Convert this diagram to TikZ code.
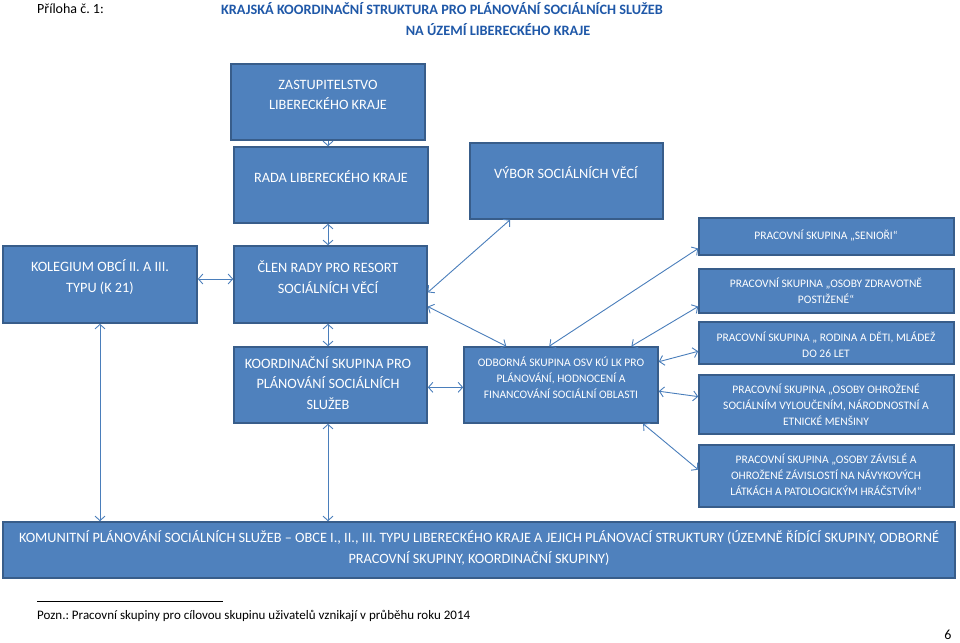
\documentclass[tikz,border=0pt]{standalone}
\usepackage{fontspec}
\setmainfont{Carlito}
\usetikzlibrary{arrows.meta,calc}
\definecolor{boxfill}{HTML}{4F81BD}
\definecolor{boxdraw}{HTML}{385D8A}
\definecolor{arrowcol}{HTML}{4A7EBB}
\definecolor{titleblue}{HTML}{1F58A8}
\frenchspacing
\begin{document}
\begin{tikzpicture}[x=1pt,y=-1pt,
  box/.style={draw=boxdraw, fill=boxfill, line width=1.6pt, inner sep=0pt},
  bigtxt/.style={text=white, align=center, font=\fontsize{14.3}{20.5}\selectfont, inner sep=0pt},
  smalltxt/.style={text=white, align=center, font=\fontsize{11.5}{16.2}\selectfont, inner sep=0pt},
  tip/.tip={Straight Barb[length=4.5pt,width=10pt]},
  conn/.style={draw=arrowcol, line width=0.9pt, tip-tip},
  oneway/.style={draw=arrowcol, line width=0.9pt, -tip}
]
\useasboundingbox (0,0) rectangle (960,642);

% header
\node[anchor=west, inner sep=0pt, font=\fontsize{14}{16}\selectfont] (pril) at (37,9) {Příloha č. 1:};
\node[inner sep=0pt, text=titleblue, font=\bfseries\fontsize{14.3}{16}\selectfont] (t1) at (442,9) {KRAJSKÁ KOORDINAČNÍ STRUKTURA PRO PLÁNOVÁNÍ SOCIÁLNÍCH SLUŽEB};
\node[inner sep=0pt, text=titleblue, font=\bfseries\fontsize{14.3}{16}\selectfont] (t2) at (498,30) {NA ÚZEMÍ LIBERECKÉHO KRAJE};

% boxes
\node[box, minimum width=194, minimum height=76] (zast) at (328,102) {};
\node[box, minimum width=194, minimum height=76] (rada) at (331,185) {};
\node[box, minimum width=193, minimum height=76] (vybor) at (566.5,181) {};
\node[box, minimum width=255, minimum height=37] (senior) at (826.5,236.5) {};
\node[box, minimum width=255, minimum height=44] (zdrav) at (826.5,291) {};
\node[box, minimum width=194, minimum height=77] (koleg) at (100,284.5) {};
\node[box, minimum width=193, minimum height=77] (clen) at (330.5,284.5) {};
\node[box, minimum width=193, minimum height=76] (koord) at (330.5,385) {};
\node[box, minimum width=194, minimum height=76] (odb) at (561,385) {};
\node[box, minimum width=255, minimum height=42] (rodina) at (826.5,343) {};
\node[box, minimum width=255, minimum height=59] (ohroz) at (826.5,404.5) {};
\node[box, minimum width=255, minimum height=62] (zavis) at (826.5,476) {};
\node[box, minimum width=952, minimum height=56] (komun) at (479,550) {};

% texts
\node[bigtxt] (zastT) at (328,95) {ZASTUPITELSTVO\\LIBERECKÉHO KRAJE};
\node[bigtxt] (radaT) at (331,177) {RADA LIBERECKÉHO KRAJE};
\node[bigtxt] (vyborT) at (566,173) {VÝBOR SOCIÁLNÍCH VĚCÍ};
\node[bigtxt] (kolegT) at (100,277) {KOLEGIUM OBCÍ II. A III.\\TYPU (K 21)};
\node[bigtxt] (clenT) at (328,277) {ČLEN RADY PRO RESORT\\SOCIÁLNÍCH VĚCÍ};
\node[bigtxt] (koordT) at (328,383) {KOORDINAČNÍ SKUPINA PRO\\PLÁNOVÁNÍ SOCIÁLNÍCH\\SLUŽEB};
\node[smalltxt] (odbT) at (561,378) {ODBORNÁ SKUPINA OSV KÚ LK PRO\\PLÁNOVÁNÍ, HODNOCENÍ A\\FINANCOVÁNÍ SOCIÁLNÍ OBLASTI};
\node[smalltxt] (seniorT) at (826,236) {PRACOVNÍ SKUPINA „SENIOŘI“};
\node[smalltxt] (zdravT) at (826,291) {PRACOVNÍ SKUPINA „OSOBY ZDRAVOTNĚ\\POSTIŽENÉ“};
\node[smalltxt] (rodinaT) at (826,344.5) {PRACOVNÍ SKUPINA „ RODINA A DĚTI, MLÁDEŽ\\DO 26 LET};
\node[smalltxt] (ohrozT) at (826,405) {PRACOVNÍ SKUPINA „OSOBY OHROŽENÉ\\SOCIÁLNÍM VYLOUČENÍM, NÁRODNOSTNÍ A\\ETNICKÉ MENŠINY};
\node[smalltxt] (zavisT) at (826,475) {PRACOVNÍ SKUPINA „OSOBY ZÁVISLÉ A\\OHROŽENÉ ZÁVISLOSTÍ NA NÁVYKOVÝCH\\LÁTKÁCH A PATOLOGICKÝM HRÁČSTVÍM“};
\node[bigtxt] (komunT) at (479,548) {KOMUNITNÍ PLÁNOVÁNÍ SOCIÁLNÍCH SLUŽEB – OBCE I., II., III. TYPU LIBERECKÉHO KRAJE A JEJICH PLÁNOVACÍ STRUKTURY (ÚZEMNĚ ŘÍDÍCÍ SKUPINY, ODBORNÉ\\PRACOVNÍ SKUPINY, KOORDINAČNÍ SKUPINY)};

% connectors
\draw[oneway] (zast.south) -- (zast.south |- rada.north);
\draw[conn] (rada.south -| zast.south) -- (clen.north -| zast.south);
\draw[conn] ($(koleg.north east)!0.43!(koleg.south east)$) coordinate (kc) -- (kc -| clen.west);
\draw[conn] (clen.south -| zast.south) -- (koord.north -| zast.south);
\draw[conn] ($(koord.north east)!0.53!(koord.south east)$) coordinate (kd) -- (kd -| odb.west);
\draw[conn] (koleg.south) -- (koleg.south |- komun.north);
\draw[conn] (koord.south -| zast.south) -- (komun.north -| zast.south);
\draw[conn] ($(clen.north east)!0.6!(clen.south east)$) -- ($(vybor.south west)!0.21!(vybor.south east)$);
\draw[conn] ($(clen.north east)!0.78!(clen.south east)$) -- ($(odb.north west)!0.22!(odb.north east)$);
\draw[conn] ($(odb.north west)!0.44!(odb.north east)$) -- ($(senior.north west)!0.81!(senior.south west)$);
\draw[conn] ($(odb.north west)!0.86!(odb.north east)$) -- ($(zdrav.north west)!0.84!(zdrav.south west)$);
\draw[conn] ($(odb.north east)!0.2!(odb.south east)$) -- ($(rodina.north west)!0.69!(rodina.south west)$);
\draw[conn] ($(odb.north east)!0.58!(odb.south east)$) -- ($(ohroz.north west)!0.37!(ohroz.south west)$);
\draw[conn] ($(odb.south west)!0.92!(odb.south east)$) -- ($(zavis.north west)!0.4!(zavis.south west)$);

% footnote
\coordinate (fl) at (37,601);
\coordinate (fr) at (223,601);
\draw[line width=0.6pt] (fl) -- (fr);
\node[anchor=west, inner sep=0pt, font=\fontsize{13}{15}\selectfont] (pozn) at (37,616) {Pozn.: Pracovní skupiny pro cílovou skupinu uživatelů vznikají v průběhu roku 2014};
\node[inner sep=0pt, font=\fontsize{14}{16}\selectfont] (page) at (948,635) {6};
\end{tikzpicture}
\end{document}
